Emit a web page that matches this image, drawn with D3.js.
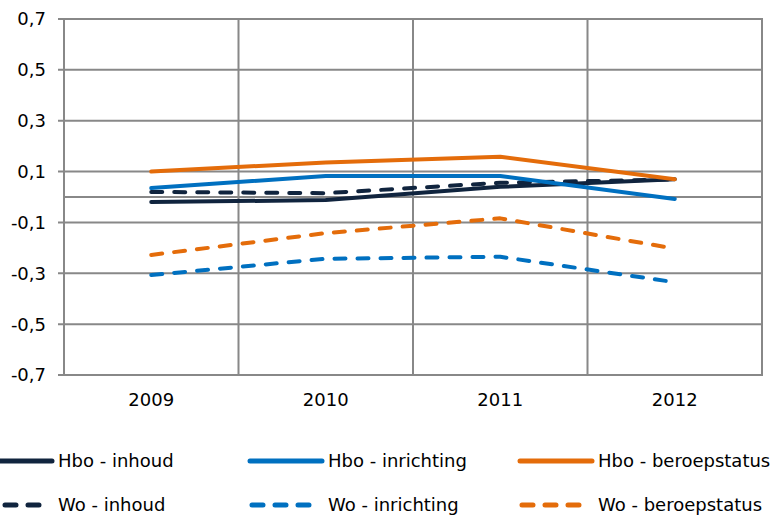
<!DOCTYPE html>
<html>
<head>
<meta charset="utf-8">
<script src="https://cdn.jsdelivr.net/npm/d3@7"></script>
<style>
  body { margin:0; background:#fff; }
  text { font-family: 'DejaVu Sans', Verdana, sans-serif; font-size: 18px; fill: #000; }
</style>
</head>
<body>
<svg id="chart" width="774" height="517"></svg>
<script>
var years = ["2009", "2010", "2011", "2012"];
var yTicks = [-0.7, -0.5, -0.3, -0.1, 0.1, 0.3, 0.5, 0.7];

var seriesNames = ["Hbo - inhoud", "Hbo - inrichting", "Hbo - beroepstatus",
                   "Wo - inhoud", "Wo - inrichting", "Wo - beroepstatus"];
var hboInhoud      = [-0.02, -0.012, 0.04, 0.07];
var hboInrichting  = [0.035, 0.083, 0.083, -0.008];
var hboBeroep      = [0.10, 0.136, 0.158, 0.07];
var woInhoud       = [0.02, 0.015, 0.056, 0.069];
var woInrichting   = [-0.307, -0.243, -0.235, -0.335];
var woBeroep       = [-0.228, -0.142, -0.084, -0.203];

var colors = ["#10243E", "#0070C0", "#E46C0A", "#10243E", "#0070C0", "#E46C0A"];
var dashed = [false, false, false, true, true, true];
var values = [hboInhoud, hboInrichting, hboBeroep, woInhoud, woInrichting, woBeroep];

var plotLeft = 64, plotRight = 762, plotTop = 19, plotBottom = 375;
var svg = d3.select("#chart");

var x = d3.scaleBand().domain(years).range([plotLeft, plotRight]).padding(0);
var y = d3.scaleLinear().domain([-0.7, 0.7]).range([plotBottom, plotTop]);
// Dutch decimal comma, plain hyphen for minus
var fmt = function(v) { return d3.format(".1f")(v).replace(".", ",").replace("\u2212", "-"); };

var grid = "#888888";
// horizontal gridlines + ticks
svg.selectAll(".hgrid")
    .data(yTicks.concat([0]))
  .enter().append("line")
    .attr("x1", function(d) { return d == 0 ? plotLeft : plotLeft - 6; })
    .attr("x2", plotRight)
    .attr("y1", function(d) { return y(d); })
    .attr("y2", function(d) { return y(d); })
    .style("stroke", grid)
    .style("stroke-width", 2);

// vertical gridlines at band edges
svg.selectAll(".vgrid")
    .data(years.slice(1))
  .enter().append("line")
    .attr("x1", function(d) { return x(d); })
    .attr("x2", function(d) { return x(d); })
    .attr("y1", plotTop)
    .attr("y2", plotBottom)
    .style("stroke", grid)
    .style("stroke-width", 2);

// frame
svg.append("rect")
    .attr("x", plotLeft).attr("y", plotTop)
    .attr("width", plotRight - plotLeft).attr("height", plotBottom - plotTop)
    .style("fill", "none").style("stroke", grid).style("stroke-width", 2);

// y labels
svg.selectAll(".ylab")
    .data(yTicks)
  .enter().append("text")
    .attr("x", 46)
    .attr("y", function(d) { return y(d); })
    .attr("dy", "0.36em")
    .attr("text-anchor", "end")
    .text(fmt);

// x labels
svg.selectAll(".xlab")
    .data(years)
  .enter().append("text")
    .attr("x", function(d) { return x(d) + x.bandwidth() / 2; })
    .attr("y", 406)
    .attr("text-anchor", "middle")
    .text(function(d) { return d; });

var line = d3.line()
    .x(function(d, i) { return x(years[i]) + x.bandwidth() / 2; })
    .y(function(d) { return y(d); });

// dashed series first, solids on top
var order = [3, 4, 5, 0, 1, 2];
order.forEach(function(k) {
  svg.append("path")
      .datum(values[k])
      .attr("d", line)
      .style("fill", "none")
      .style("stroke", colors[k])
      .style("stroke-width", 4)
      .style("stroke-linecap", "round")
      .style("stroke-linejoin", "round")
      .style("stroke-dasharray", dashed[k] ? "11,12" : null);
});

// legend
var legX = [-20, 250, 520];
var legY = [461, 505];
seriesNames.forEach(function(name, k) {
  var col = k % 3, row = Math.floor(k / 3);
  var g = svg.append("g")
      .attr("transform", "translate(" + legX[col] + "," + legY[row] + ")");
  g.append("line")
      .attr("x1", dashed[k] ? 2 : 0).attr("x2", dashed[k] ? 62 : 72)
      .attr("y1", 0).attr("y2", 0)
      .style("stroke", colors[k])
      .style("stroke-width", 5)
      .style("stroke-linecap", "round")
      .style("stroke-dasharray", dashed[k] ? "11,12" : null);
  g.append("text")
      .attr("x", 78)
      .attr("y", 0)
      .attr("dy", "0.36em")
      .text(name);
});
</script>
</body>
</html>
